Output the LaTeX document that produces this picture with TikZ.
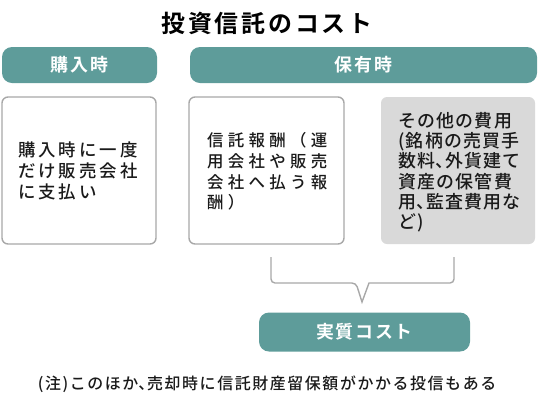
\documentclass[tikz,border=0pt]{standalone}
\usepackage{fontspec}
\IfFontExistsTF{Noto Sans CJK JP Medium}
  {\newfontfamily\jp[BoldFont={Noto Sans CJK JP Bold}]{Noto Sans CJK JP Medium}}
  {\newfontfamily\jp[BoldFont={Noto Sans CJK JP Bold}]{Noto Sans CJK JP}}
\definecolor{teal1}{HTML}{5E9C9A}
\definecolor{bord}{HTML}{A8A8A8}
\definecolor{grayfill}{HTML}{D9D9D9}
\definecolor{txt}{HTML}{1A1A1A}
\newcommand{\tightls}{\lineskiplimit-50pt\relax}
\tikzset{
  hdrtext/.style={inner sep=0pt, text=white, font={\jp\bfseries\fontsize{18}{20}\selectfont\addfontfeature{LetterSpace=10}}},
  hdr/.style={fill=teal1, draw=none, rounded corners=10bp},
  card/.style={draw=bord, line width=1.4bp, rounded corners=6bp},
  gcard/.style={fill=grayfill, draw=none, rounded corners=6bp},
  body1/.style={anchor=north west, align=left, inner sep=0pt, text=txt,
    font={\jp\fontsize{17.5}{21}\selectfont\addfontfeature{LetterSpace=17}\tightls}},
  body2/.style={anchor=north west, align=left, inner sep=0pt, text=txt,
    font={\jp\fontsize{16.5}{20.7}\selectfont\addfontfeature{LetterSpace=26}\tightls}},
  body3/.style={anchor=north west, align=left, inner sep=0pt, text=txt,
    font={\jp\fontsize{18}{20.4}\selectfont\addfontfeature{LetterSpace=7}\tightls}},
  brk/.style={draw=bord, line width=1.4bp, rounded corners=4bp}
}
\newcommand{\hw}[1]{\makebox[0.55em][l]{#1}}
\begin{document}
\begin{tikzpicture}[x=1bp,y=-1bp]
\useasboundingbox (0,0) rectangle (550,400);
\node[inner sep=0pt, text=black, font={\jp\bfseries\fontsize{24}{26}\selectfont\addfontfeature{LetterSpace=12}}] (title) at (267,23) {投資信託のコスト};
\path[hdr] (2,47) rectangle (157,83);
\node[hdrtext] (h1) at (79.5,65) {購入時};
\path[hdr] (190,47) rectangle (537,83);
\node[hdrtext] (h2) at (363.5,65) {保有時};
\draw[card] (2,97) rectangle (156,244);
\draw[card] (189,97) rectangle (344,244);
\path[gcard] (381,97) rectangle (535,244);
\node[body1] (t1) at (18,142) {購入時に一度\\だけ販売会社\\に支払い};
\node[body2] (t2) at (207,132.5) {信託報酬（運\\用会社や販売\\会社へ払う報\\酬）};
\node[body3] (t3) at (398,112) {その他の費用\\(銘柄の売買手\\数料\hw{、}外貨建て\\資産の保管費\\用\hw{、}監査費用な\\ど)};
\coordinate (bl) at (271,257);
\coordinate (br) at (454,257);
\coordinate (v) at (362,302);
\draw[brk] (bl) -- (271,283) -- (356,283) [sharp corners] -- (v) -- (369,283) [rounded corners=4bp] -- (454,283) -- (br);
\node[hdr, minimum width=211bp, minimum height=39bp, inner sep=0pt] (real) at (364.5,332) {};
\node[hdrtext] (realt) at (real) {実質コスト};
\node[inner sep=0pt, text=txt, font={\jp\fontsize{16}{18}\selectfont\addfontfeature{LetterSpace=10}}] (note) at (267,384) {(注)このほか\hw{、}売却時に信託財産留保額がかかる投信もある};
\end{tikzpicture}
\end{document}
